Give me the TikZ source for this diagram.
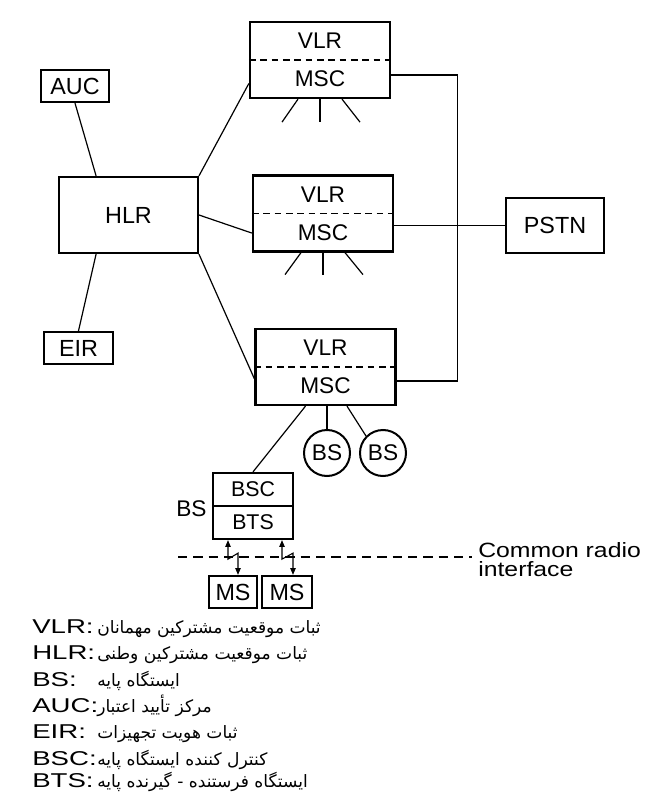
\documentclass[tikz,border=0pt]{standalone}
\usepackage{fontspec}
\setmainfont{Liberation Sans}
\newfontfamily\widefont[FakeStretch=1.38]{Liberation Sans}
\newfontfamily\radiofont[FakeStretch=1.2]{Liberation Sans}
\newfontfamily\farsifont[Script=Arabic]{DejaVu Sans}
\TeXXeTstate=1
\usepackage{tikz}
\usetikzlibrary{arrows.meta,calc}

\begin{document}
\begin{tikzpicture}[x=0.75pt, y=-0.75pt,
    unitbox/.style={draw, line width=1.7pt, minimum width=105pt, minimum height=57pt, inner sep=0pt},
    netbox/.style={draw, line width=1.7pt, minimum width=#1, minimum height=24pt, inner sep=0pt, font=\fontsize{17.5}{20}\selectfont},
    netbox/.default={51pt},
    bscell/.style={draw, line width=1.7pt, minimum width=60pt, minimum height=24.75pt, inner sep=0pt, font=\fontsize{16}{19}\selectfont},
    bscircle/.style={draw, circle, line width=1.5pt, minimum size=34.5pt, inner sep=0pt, font=\fontsize{17}{20}\selectfont},
    lbl/.style={inner sep=0pt, font=\fontsize{17}{20}\selectfont},
    link/.style={line width=0.9pt},
    divider/.style={line width=1.2pt, dash pattern=on 5pt off 3.5pt},
    radioline/.style={line width=1.2pt, dash pattern=on 7pt off 4.5pt},
    radio/.style={line width=0.8pt, {Triangle[length=5pt,width=4pt]}-{Triangle[length=5pt,width=4pt]}},
    legab/.style={inner sep=0pt, font=\widefont\fontsize{15}{17}\selectfont},
    legfa/.style={inner sep=0pt, font=\farsifont\fontsize{12.8}{15}\selectfont},
]
\useasboundingbox (0,0) rectangle (644,802);

% ===== CORE NETWORK =====
\node[netbox, minimum width=104pt, minimum height=57pt] (hlr) at (128.5,215) {HLR};
\node[netbox] (auc) at (75,86) {AUC};
\node[netbox=52pt] (eir) at (78.5,348) {EIR};
\node[netbox=73.5pt, minimum height=41pt] (pstn) at (555,225.5) {PSTN};

\node[unitbox] (vm1) at (320,60) {};
\node[lbl] (vlr1) at ($(vm1.center)+(0,-19)$) {VLR};
\node[lbl] (msc1) at ($(vm1.center)+(0,19)$) {MSC};
\draw[divider] (vm1.west) -- (vm1.east);

\node[unitbox] (vm2) at (323,213.5) {};
\node[lbl] (vlr2) at ($(vm2.center)+(0,-19)$) {VLR};
\node[lbl] (msc2) at ($(vm2.center)+(0,19)$) {MSC};
\draw[divider] (vm2.west) -- (vm2.east);

\node[unitbox] (vm3) at (325.5,367) {};
\node[lbl] (vlr3) at ($(vm3.center)+(0,-19)$) {VLR};
\node[lbl] (msc3) at ($(vm3.center)+(0,19)$) {MSC};
\draw[divider] (vm3.west) -- (vm3.east);

% ===== RADIO PART =====
\node[bscircle] (bs1) at (327,453) {BS};
\node[bscircle] (bs2) at (383,453) {BS};

\node[bscell] (bsc) at (253,489.5) {BSC};
\node[bscell] (bts) at (253,522.5) {BTS};
\node[lbl, anchor=east] (bslbl) at ($(bsc.south west)+(-5,2)$) {BS};

\node[netbox=36pt] (ms1) at (233,592) {MS};
\node[netbox=37.5pt] (ms2) at (287,592) {MS};

\node[inner sep=0pt, anchor=base west, align=left, font=\radiofont\fontsize{15.5}{14}\selectfont] (crif) at (478,576) {Common radio\\interface};

% ===== CONNECTORS =====
\draw[link] (auc.south) -- ($(hlr.north west)!0.27!(hlr.north east)$);
\draw[link] ($(hlr.south west)!0.27!(hlr.south east)$) -- (eir.north);
\draw[link] (hlr.north east) -- ($(vm1.west)!0.6!(vm1.south west)$);
\draw[link] (hlr.east) -- ($(vm2.west)!0.5!(vm2.south west)$);
\draw[link] (hlr.south east) -- ($(vm3.west)!0.3!(vm3.south west)$);

\draw[link] ($(vm1.east)+(0,15)$) -- ++(66,0) |- ($(vm3.east)+(0,14)$);
\draw[link] (vm2.east |- pstn.west) -- (pstn.west);

\foreach \a/\b in {-22/-38, 0/0, 22/40} {
  \draw[link] ($(vm1.south)+(\a,0)$) -- ($(vm1.south)+(\b,23)$);
  \draw[link] ($(vm2.south)+(\a,0)$) -- ($(vm2.south)+(\b,22)$);
}

\draw[link] ($(vm3.south)+(-20,0)$) -- (bsc.north);
\draw[link] ($(vm3.south)+(1.5,0)$) -- (bs1.north);
\draw[link] ($(vm3.south)+(21.5,0)$) -- (bs2.north west);

\coordinate (rl) at (178,557);
\draw[radioline] (rl) -- ($(rl -| crif.west)+(-6,0)$);
\draw[radio] ($(bts.south)+(-25,0)$) -- ++(0,19) -- ++(10,-6) -- ($(ms1.north)+(5,0)$);
\draw[radio] ($(bts.south)+(29,0)$) -- ++(0,19) -- ++(11,-6) -- ($(ms2.north)+(6,0)$);

% ===== LEGEND =====
\foreach \ab/\fa/\yy in {
    VLR/ثبات موقعیت مشترکین مهمانان/633,
    HLR/ثبات موقعیت مشترکین وطنی/659,
    BS/ایستگاه پایه/686,
    AUC/مرکز تأیید اعتبار/712,
    EIR/ثبات هویت تجهیزات/738,
    BSC/کنترل کننده ایستگاه پایه/765,
    BTS/ایستگاه فرستنده - گیرنده پایه/787} {
  \node[legab, anchor=base west] (ab-\ab) at (32,\yy) {\ab:};
  \node[legfa, anchor=base west] (fa-\ab) at (97,\yy) {\beginR\fa\endR};
}

\end{tikzpicture}
\end{document}
